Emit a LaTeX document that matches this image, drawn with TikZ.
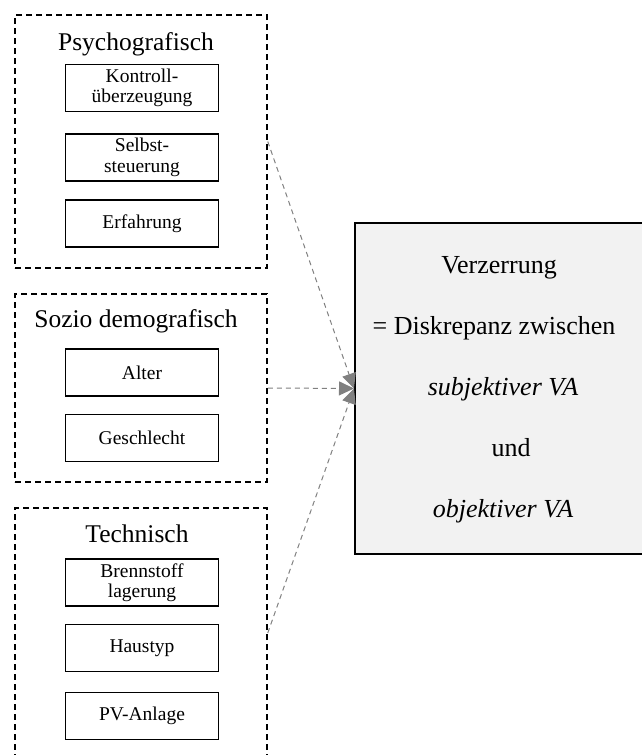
\documentclass[tikz,border=0pt]{standalone}
\usepackage{fontspec}
\setmainfont{Liberation Serif}
\usetikzlibrary{arrows.meta}
\definecolor{boxgray}{HTML}{F2F2F2}
\definecolor{linkgray}{HTML}{808080}
\tikzset{
  groupbox/.style={draw=black, line width=1.5pt, dash pattern=on 6pt off 4pt,
    minimum width=252pt, inner sep=0pt, anchor=center},
  itembox/.style={draw=black, line width=1.3pt, minimum width=153pt, minimum height=47pt,
    inner sep=0pt, align=center, font=\fontsize{19.5}{20.5}\selectfont},
  grouptitle/.style={anchor=base, inner sep=0pt, font=\fontsize{25.5}{28}\selectfont},
  resulttext/.style={anchor=base, inner sep=0pt, font=\fontsize{26}{28}\selectfont},
  link/.style={draw=linkgray, line width=1pt, dash pattern=on 5pt off 4pt,
    -{Triangle[length=15pt,width=14pt]}}
}
\begin{document}
\begin{tikzpicture}[x=1pt,y=-1pt]
\useasboundingbox (0,0) rectangle (641,755);

% factor groups
\node[groupbox, minimum height=253pt] (psy) at (141,141.5) {};
\node[groupbox, minimum height=188pt] (soz) at (141,388) {};
\node[groupbox, minimum height=250pt] (tec) at (141,633) {};

% group titles
\node[grouptitle] (psyt) at (136,50) {Psychografisch};
\node[grouptitle] (sozt) at (136,327) {Sozio demografisch};
\node[grouptitle] (tect) at (137,542) {Technisch};

% items
\node[itembox] (kon) at (142,88) {Kontroll-\\überzeugung};
\node[itembox] (sel) at (142,157.5) {Selbst-\\steuerung};
\node[itembox] (erf) at (142,223.5) {Erfahrung};
\node[itembox] (alt) at (142,372.5) {Alter};
\node[itembox] (ges) at (142,438) {Geschlecht};
\node[itembox] (bre) at (142,582.5) {Brennstoff\\lagerung};
\node[itembox] (hau) at (142,648) {Haustyp};
\node[itembox] (pva) at (142,716) {PV-Anlage};

% outcome box
\node[draw=black, line width=1.5pt, fill=boxgray, minimum width=300pt, minimum height=331pt,
  inner sep=0pt, anchor=west] (res) at (354,388.5) {};
\node[resulttext] (r1) at (499,273) {Verzerrung};
\node[resulttext] (r2) at (494,334) {= Diskrepanz zwischen};
\node[resulttext] (r3) at (503,395) {\itshape subjektiver VA};
\node[resulttext] (r4) at (511,456) {und};
\node[resulttext] (r5) at (503,517) {\itshape objektiver VA};

% links
\draw[link] (psy.east) -- (res.west);
\draw[link] (soz.east) -- (res.west);
\draw[link] (tec.east) -- (res.west);
\end{tikzpicture}
\end{document}
